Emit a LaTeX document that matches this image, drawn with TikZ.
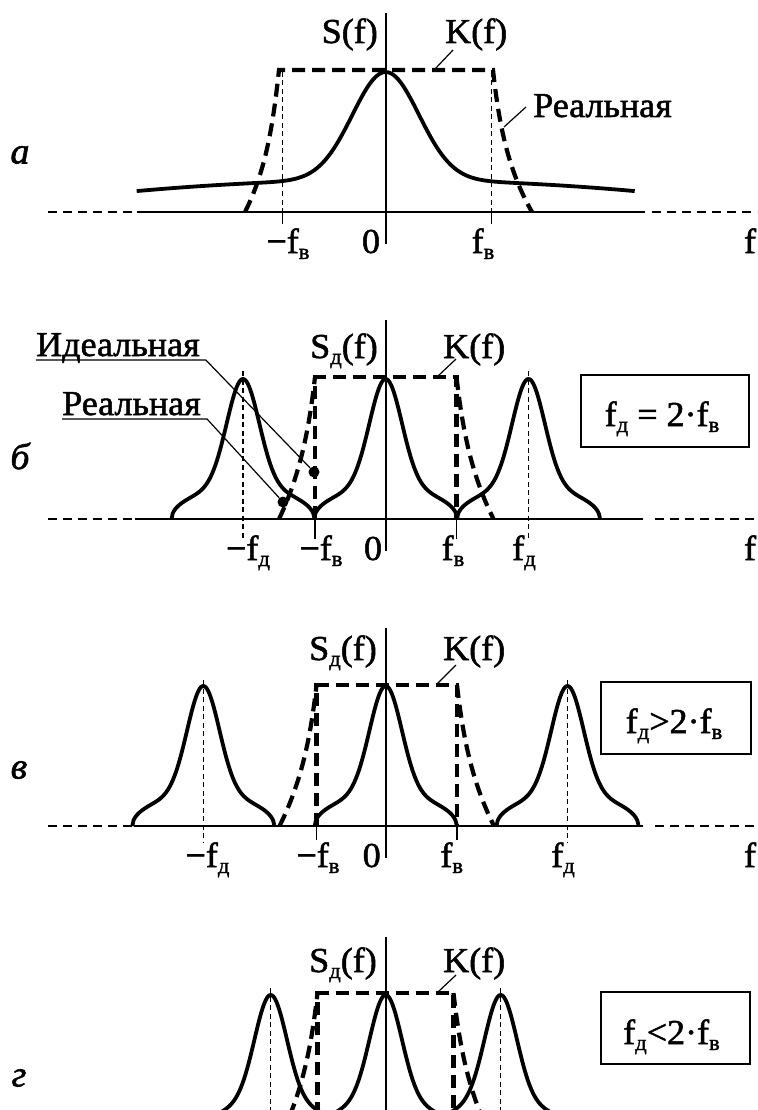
\documentclass[tikz,border=0pt]{standalone}
\usepackage{fontspec}
\setmainfont{Liberation Serif}[FakeStretch=1.03, FakeBold=1.5]
\usetikzlibrary{calc}

% lowered index letter
\newcommand{\lowidx}[1]{\raisebox{-6pt}{\fontsize{22}{22}\selectfont #1}}
% spectral lobe profile, u in [-1,1]
\newcommand{\lobe}[1]{(0.78*exp(-(#1*#1)/0.1024)+0.22*sqrt(max(0,1-#1*#1)))}

\begin{document}
\begin{tikzpicture}[x=1pt, y=-1pt,
    axisline/.style={line width=1.6pt},
    axisdash/.style={line width=1.4pt, dash pattern=on 9pt off 6pt},
    guide/.style={line width=1.1pt, dash pattern=on 5pt off 3.5pt},
    spec/.style={line width=3.8pt, line join=round},
    kresp/.style={line width=4.2pt, dash pattern=on 13pt off 7pt},
    leader/.style={line width=1.2pt},
    lbl/.style={inner sep=0pt, font=\fontsize{35}{40}\selectfont},
    tag/.style={inner sep=0pt, font=\fontsize{37}{40}\selectfont\itshape},
    condbox/.style={draw, line width=2pt, inner sep=0pt, minimum height=72pt},
    dot/.style={circle, fill, inner sep=0pt, minimum size=11pt}]
    \useasboundingbox (0,0) rectangle (757,1110);
    \clip (0,0) rectangle (757,1110);

    % ---------- panel a ----------
    \node[tag] (tagA) at (20,155) {а};
    \draw[axisdash] (48,212) -- (137,212);
    \draw[axisline] (137,212) -- (645,212);
    \draw[axisdash] (652,212) -- (757,212);
    \draw[axisline] (385.7,13) -- (385.7,244);
    \foreach \t in {282.5,491.5} {
        \draw[guide] (\t,72) -- (\t,212);
        \draw[axisline] (\t,212) -- (\t,224);
    }
    % spectrum S(f)
    \draw[spec] plot[domain=-249:249, samples=161]
        ({385.7+\x}, {212-108*exp(-(\x/47)*(\x/47))-32+11*(\x/248)*(\x/248)});
    % real K(f)
    \draw[kresp] (245,212) .. controls (266,170) and (273,125) .. (279,70)
        -- (493,70) .. controls (499,125) and (508,170) .. (532,212);
    \node[lbl, anchor=base east] (specA) at (378,43) {S(f)};
    \node[lbl, anchor=base west] (kA) at (445,43) {K(f)};
    \coordinate (kAend) at (435,69);
    \draw[leader] ([shift={(8,7)}]kA.base west) -- (kAend);
    \node[lbl, anchor=base west] (realA) at (533,117) {Реальная};
    \coordinate (realAend) at (504,127);
    \draw[leader] ([shift={(-7,-10)}]realA.base west) -- (realAend);
    \node[lbl, anchor=base] (mfbA) at (288,253) {−f\lowidx{в}};
    \node[lbl, anchor=base] (zeroA) at (371,253) {0};
    \node[lbl, anchor=base] (fbA) at (483,253) {f\lowidx{в}};
    \node[lbl, anchor=base] (fA) at (750,253) {f};

    % ---------- panel b ----------
    \node[tag] (tagB) at (20,456) {б};
    \draw[axisdash] (48,519) -- (135,519);
    \draw[axisline] (135,519) -- (643,519);
    \draw[axisdash] (655,519) -- (757,519);
    \draw[axisline] (385.7,320) -- (385.7,551);
    \foreach \t in {243,528.5} \draw[guide] (\t,371) -- (\t,540);
    \foreach \t in {315,456.5} \draw[axisline] (\t,519) -- (\t,539);
    \foreach \c in {243,385.7,528.5}
        \draw[spec] plot[domain=-1:1, samples=121] ({\c+71.5*\x}, {519-140*\lobe{\x}});
    % ideal and real K(f)
    \draw[kresp] (315,519) -- (315,377) -- (456.5,377) -- (456.5,519);
    \draw[kresp] (279,519) .. controls (300,475) and (309,430) .. (315,377);
    \draw[kresp] (456.5,377) .. controls (462.5,430) and (471.5,475) .. (493.5,519);
    \node[dot] (dotIdeal) at (314,472) {};
    \node[dot] (dotReal) at (283,502) {};
    \node[lbl, anchor=base west] (idealB) at (36,356) {Идеальная};
    \node[lbl, anchor=base west] (realB) at (62,415) {Реальная};
    \draw[leader] ([shift={(0,4)}]idealB.base west) -- ([shift={(6,4)}]idealB.base east) -- (dotIdeal);
    \draw[leader] ([shift={(0,4)}]realB.base west) -- ([shift={(6,4)}]realB.base east) -- (dotReal);
    \node[lbl, anchor=base east] (specB) at (378,358) {S\lowidx{д}(f)};
    \node[lbl, anchor=base west] (kB) at (443,358) {K(f)};
    \coordinate (kBend) at (438,376);
    \draw[leader] ([shift={(13,1)}]kB.base west) -- (kBend);
    \node[condbox, minimum width=168pt] (condB) at (665,411) {};
    \node[lbl, anchor=base] (condBtxt) at (662,426) {f\lowidx{д} = 2·f\lowidx{в}};
    \node[lbl, anchor=base] (mfdB) at (248,560) {−f\lowidx{д}};
    \node[lbl, anchor=base] (mfbB) at (321,560) {−f\lowidx{в}};
    \node[lbl, anchor=base] (zeroB) at (373,560) {0};
    \node[lbl, anchor=base] (fbB) at (453,560) {f\lowidx{в}};
    \node[lbl, anchor=base] (fdB) at (524,560) {f\lowidx{д}};
    \node[lbl, anchor=base] (fB) at (750,560) {f};

    % ---------- panel v ----------
    \node[tag] (tagC) at (19,770) {в};
    \draw[axisdash] (48,826) -- (134,826);
    \draw[axisline] (134,826) -- (643,826);
    \draw[axisdash] (655,826) -- (757,826);
    \draw[axisline] (385.7,628) -- (385.7,858);
    \foreach \t in {203.3,567.5} \draw[guide] (\t,680) -- (\t,842);
    \foreach \t in {316.5,457} \draw[axisline] (\t,826) -- (\t,840);
    \foreach \c in {203.3,385.7,567.5}
        \draw[spec] plot[domain=-1:1, samples=121] ({\c+71*\x}, {826-140*\lobe{\x}});
    \draw[kresp] (316.5,826) -- (316.5,685) -- (457,685) -- (457,826);
    \draw[kresp] (279.5,826) .. controls (301.5,782) and (310.5,738) .. (316.5,685);
    \draw[kresp] (457,685) .. controls (463,738) and (472,782) .. (494,826);
    \node[lbl, anchor=base east] (specC) at (377,660) {S\lowidx{д}(f)};
    \node[lbl, anchor=base west] (kC) at (443,660) {K(f)};
    \coordinate (kCend) at (437,684);
    \draw[leader] ([shift={(13,5)}]kC.base west) -- (kCend);
    \node[condbox, minimum width=150pt] (condC) at (676,718) {};
    \node[lbl, anchor=base] (condCtxt) at (674,733) {f\lowidx{д}>2·f\lowidx{в}};
    \node[lbl, anchor=base] (mfdC) at (207.5,867) {−f\lowidx{д}};
    \node[lbl, anchor=base] (mfbC) at (318,867) {−f\lowidx{в}};
    \node[lbl, anchor=base] (zeroC) at (371.7,867) {0};
    \node[lbl, anchor=base] (fbC) at (451.7,867) {f\lowidx{в}};
    \node[lbl, anchor=base] (fdC) at (563,867) {f\lowidx{д}};
    \node[lbl, anchor=base] (fC) at (750,867) {f};

    % ---------- panel g ----------
    \node[tag] (tagD) at (19,1078) {г};
    \draw[axisline] (385.7,937) -- (385.7,1110);
    \foreach \t in {270.7,500.7} \draw[guide] (\t,988) -- (\t,1110);
    \foreach \c in {270.7,385.7,500.7}
        \draw[spec] plot[domain=-1:1, samples=121] ({\c+71*\x}, {1135-140*\lobe{\x}});
    \draw[kresp] (317.5,1135) -- (317.5,993) -- (453.5,993) -- (453.5,1135);
    \draw[kresp] (281.5,1134) .. controls (302.5,1091) and (311.5,1046) .. (317.5,993);
    \draw[kresp] (453.5,993) .. controls (459.5,1046) and (468.5,1091) .. (489.5,1134);
    \node[lbl, anchor=base east] (specD) at (377,972) {S\lowidx{д}(f)};
    \node[lbl, anchor=base west] (kD) at (443,972) {K(f)};
    \coordinate (kDend) at (438,992);
    \draw[leader] ([shift={(13,3)}]kD.base west) -- (kDend);
    \node[condbox, minimum width=149pt] (condD) at (675.7,1027.5) {};
    \node[lbl, anchor=base] (condDtxt) at (671.5,1044) {f\lowidx{д}<2·f\lowidx{в}};
\end{tikzpicture}
\end{document}
